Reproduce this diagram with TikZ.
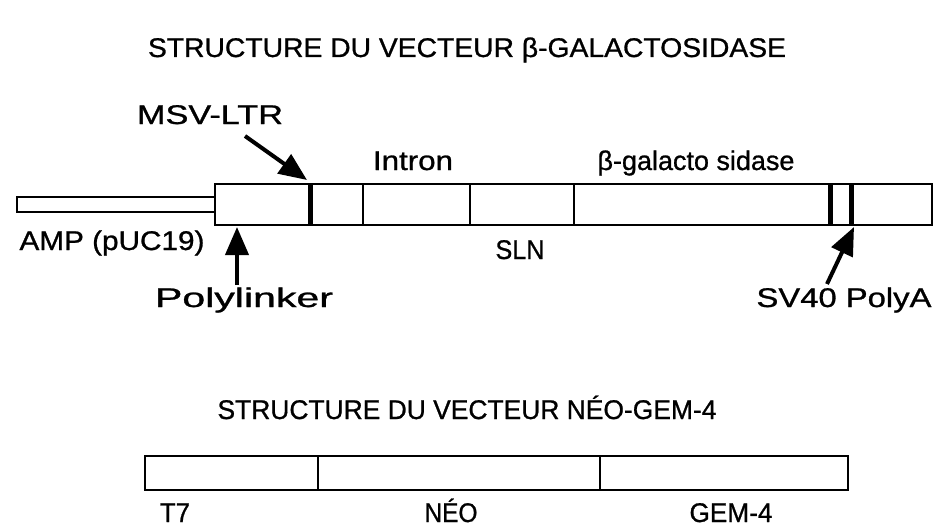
\documentclass[tikz,border=0pt]{standalone}
\usepackage{fontspec}
\setmainfont{Liberation Sans}[BoldFont={Liberation Sans}, BoldFeatures={FakeBold=0.9}]
\usetikzlibrary{arrows.meta}
\newcommand{\fitw}[2]{\resizebox{#1}{\height}{\fontsize{27}{29}\selectfont\bfseries #2}}
\tikzset{
  lbl/.style={inner sep=0pt, anchor=base},
  seg/.style={line width=2.8pt},
  thick seg/.style={line width=5pt},
  barbox/.style={draw, line width=2.8pt, fill=white},
  bigarrow/.style={line width=4pt, -{Triangle[length=28pt,width=23pt]}},
}
\begin{document}
\begin{tikzpicture}[x=1pt,y=-1pt]
\useasboundingbox[fill=white] (0,0) rectangle (935,527);

% ---- top vector ----
\node[lbl] (t1) at (467,57) {\fitw{638pt}{STRUCTURE DU VECTEUR β-GALACTOSIDASE}};

\draw[barbox] (17,197) rectangle (215,212);
\draw[barbox] (215,184) rectangle (932,225);
\foreach \x in {363,470,574}{
  \draw[seg] (\x,184) -- (\x,225);
}
\foreach \x in {310,830,851}{
  \draw[thick seg] (\x,184) -- (\x,225);
}

\node[lbl] (msv) at (210,124) {\fitw{146pt}{MSV-LTR}};
\node[lbl] (intron) at (413,170) {\fitw{80pt}{Intron}};
\node[lbl] (bgal) at (696,170) {\fitw{197pt}{β-galacto sidase}};
\node[lbl] (amp) at (112,250) {\fitw{185pt}{AMP (pUC19)}};
\node[lbl] (sln) at (520,259) {\fitw{49pt}{SLN}};
\node[lbl] (poly) at (244,307) {\fitw{178pt}{Polylinker}};
\node[lbl] (sv40) at (844,307) {\fitw{175pt}{SV40 PolyA}};

\coordinate (msvtail) at (245,136);
\coordinate (msvtip) at (307,180);
\coordinate (polytail) at (237,285);
\coordinate (polytip) at (237,227);
\coordinate (svtail) at (827,284);
\coordinate (svtip) at (854,227);
\draw[bigarrow] (msvtail) -- (msvtip);
\draw[bigarrow] (polytail) -- (polytip);
\draw[bigarrow] (svtail) -- (svtip);

% ---- bottom vector ----
\node[lbl] (t2) at (467,419) {\fitw{499pt}{STRUCTURE DU VECTEUR NÉO-GEM-4}};
\draw[line width=2.2pt] (145,456) rectangle (848,490);
\draw[line width=2.2pt] (318,456) -- (318,490);
\draw[line width=2.2pt] (600,456) -- (600,490);
\node[lbl] (t7) at (175,522) {\fitw{30pt}{T7}};
\node[lbl] (neo) at (451,522) {\fitw{53pt}{NÉO}};
\node[lbl] (gem) at (731,522) {\fitw{83pt}{GEM-4}};
\end{tikzpicture}
\end{document}
